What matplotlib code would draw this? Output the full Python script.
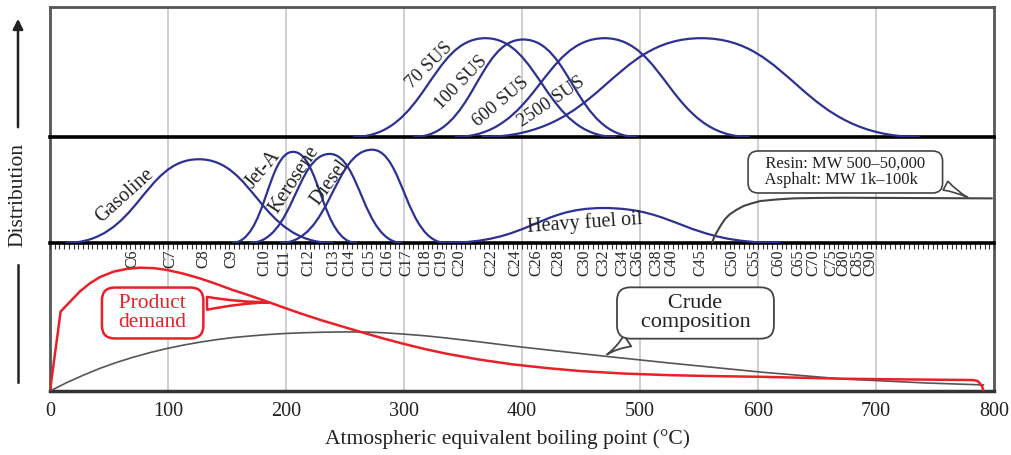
import matplotlib
matplotlib.use("Agg")
import matplotlib.pyplot as plt
from matplotlib.path import Path
from matplotlib.patches import PathPatch, FancyArrowPatch
from matplotlib.transforms import blended_transform_factory

plt.rcParams['font.family'] = ['Liberation Serif', 'DejaVu Serif']

NAVY = "#2e3192"
RED = "#e8202a"
GRID = "#cccccc"

# lube oil grades (top panel): start, peak, end temperature and peak height (% of panel)
sus_labels = ["70 SUS", "100 SUS", "600 SUS", "2500 SUS"]
sus_start = [257, 308, 343, 366]
sus_peak = [369, 401, 470, 552]
sus_end = [480, 498, 593, 737]
sus_height = [76, 75, 76, 76]

# fuels (middle panel)
fuel_labels = ["Gasoline", "Jet-A", "Kerosene", "Diesel", "Heavy fuel oil"]
fuel_start = [13, 154, 169, 195, 333]
fuel_peak = [126, 206, 237, 273, 469]
fuel_end = [240, 260, 299, 336, 619]
fuel_height = [79, 86, 84, 88, 33]

# resin / asphalt curve
resin_t = [561, 563, 566, 569, 572, 576, 582, 588, 595, 602, 615, 630, 650, 672, 798]
resin_v = [0, 6, 12, 17.6, 22.5, 27, 31.5, 35, 37.5, 39.6, 41, 42.1, 42.5, 42.7, 42.1]

# carbon numbers vs boiling point
carbon_labels = ["C6", "C7", "C8", "C9", "C10", "C11", "C12", "C13", "C14", "C15",
                 "C16", "C17", "C18", "C19", "C20", "C22", "C24", "C26", "C28", "C30",
                 "C32", "C34", "C36", "C38", "C40", "C45", "C50", "C55", "C60", "C65",
                 "C70", "C75", "C80", "C85", "C90"]
carbon_bp = [70, 102, 130, 154, 182, 199, 219, 240, 254, 271,
             286, 302, 318, 332, 347, 374, 394, 412, 431, 453,
             469, 485, 498, 514, 527, 551, 578, 597, 617, 634,
             647, 662, 672, 684, 695]

# product demand (red) and crude composition (gray), bottom panel
demand_t = [0, 9, 12.7, 18.4, 25.4, 33.9, 42.4, 53.7, 65, 76, 88, 99, 113, 127, 141, 155,
            170, 184, 198, 212, 230, 246, 265, 282, 299, 318, 336, 364, 392, 421, 449, 486,
            525, 559, 602, 672, 714, 782, 786, 788, 790, 791]
demand_v = [0, 53.6, 56.8, 61.5, 67.3, 72.8, 77, 80.6, 82.5, 83.3, 83, 81.8, 79.3, 76.1,
            72.3, 68.2, 64.3, 60.4, 56.4, 52.5, 47.8, 44, 39.5, 35.6, 32, 28.3, 25.2, 21.2,
            18, 15.5, 13.5, 11.8, 10.7, 10.1, 9.6, 8.3, 7.9, 7.4, 6.8, 5.2, 3, 0]
crude_t = [0, 14, 28, 42, 56, 70, 85, 99, 113, 127, 141, 155, 170, 184, 198, 212, 230, 246,
           265, 282, 299, 318, 336, 364, 392, 430, 469, 525, 602, 672, 743, 791]
crude_v = [0, 5.6, 10.6, 15.2, 19.2, 22.7, 26, 28.7, 31, 33, 34.7, 36.1, 37.2, 38.1, 38.8,
           39.3, 39.7, 39.9, 39.9, 39.4, 38.5, 37.3, 35.8, 33.2, 30.4, 27, 23.6, 18.9, 12.8,
           8.1, 5.4, 4.1]

x_ticks = [0, 100, 200, 300, 400, 500, 600, 700, 800]


def bell(ax, start, peak, end, height):
    a, b = 0.55, 0.42
    w1 = peak - start
    w2 = end - peak
    verts = [(start, 0), (start + a * w1, 0), (peak - b * w1, height), (peak, height),
             (peak + b * w2, height), (end - a * w2, 0), (end, 0)]
    codes = [Path.MOVETO] + [Path.CURVE4] * 6
    ax.add_patch(PathPatch(Path(verts, codes), fill=False, ec=NAVY, lw=1.6, zorder=3))


fig = plt.figure(figsize=(10.11, 4.55), dpi=100)
L, W = 50 / 1011, 944 / 1011
ax_bot = fig.add_axes([L, 1 - 391 / 455, W, 148 / 455])
ax_mid = fig.add_axes([L, 1 - 243 / 455, W, 106 / 455])
ax_top = fig.add_axes([L, 1 - 137 / 455, W, 130 / 455])

for ax in (ax_top, ax_mid, ax_bot):
    ax.set_xlim(0, 800)
    ax.set_ylim(0, 100)
    ax.set_yticks([])
    ax.patch.set_facecolor("none")
    for g in x_ticks[1:-1]:
        ax.axvline(g, color=GRID, lw=1.3, zorder=0)
    for s in ("left", "right"):
        ax.spines[s].set_color("#555555")
        ax.spines[s].set_linewidth(2)

ax_top.spines["top"].set_color("#555555")
ax_top.spines["top"].set_linewidth(2)
ax_top.spines["bottom"].set_color("black")
ax_top.spines["bottom"].set_linewidth(2.6)
ax_top.set_xticks([])
ax_mid.spines["top"].set_visible(False)
ax_mid.spines["bottom"].set_color("black")
ax_mid.spines["bottom"].set_linewidth(2.6)
ax_mid.set_xticks([])
ax_mid.set_xticks(list(range(0, 801, 4)), minor=True)
ax_mid.tick_params(axis="x", which="minor", direction="out", length=4, width=0.8, color="#333333")
ax_bot.spines["top"].set_visible(False)
ax_bot.spines["bottom"].set_color("#333333")
ax_bot.spines["bottom"].set_linewidth(2.5)
ax_bot.set_xticks(x_ticks)
ax_bot.tick_params(axis="x", length=0, labelsize=14.5, pad=8, labelcolor="#222222")
ax_bot.set_xlabel("Atmospheric equivalent boiling point (°C)", fontsize=15.5,
                  color="#222222")
ax_bot.xaxis.set_label_coords((508 - 50) / 944, -0.26)

# top panel
for s0, p, e, h in zip(sus_start, sus_peak, sus_end, sus_height):
    bell(ax_top, s0, p, e, h)
sus_pos = [(321, 55, 45), (348, 42, 46), (382, 27, 40), (425, 27, 34)]
for lab, (x, y, r) in zip(sus_labels, sus_pos):
    ax_top.text(x, y, lab, rotation=r, rotation_mode="anchor", ha="center", va="center",
                fontsize=13.5, color="#222222")

# middle panel
for s0, p, e, h in zip(fuel_start, fuel_peak, fuel_end, fuel_height):
    bell(ax_mid, s0, p, e, h)
fuel_pos = [(63, 45, 42), (181, 69, 50), (207, 60, 57), (237, 57, 54), (453, 19, 4)]
for lab, (x, y, r) in zip(fuel_labels, fuel_pos):
    ax_mid.text(x, y, lab, rotation=r, rotation_mode="anchor", ha="center", va="center",
                fontsize=14.5, color="#222222")
ax_mid.plot(resin_t, resin_v, color="#444444", lw=1.5, zorder=3)
ax_mid.annotate("   Resin: MW 500\u201350,000   \n   Asphalt: MW 1k\u2013100k",
                xy=(780, 41.5), xytext=(674, 67), ha="center", va="center",
                multialignment="left", fontsize=12, color="#222222", linespacing=1.0,
                bbox=dict(boxstyle="round,pad=0.3,rounding_size=0.6", fc="white",
                          ec="#444444", lw=1.2),
                arrowprops=dict(arrowstyle="wedge,tail_width=0.6,shrink_factor=0.3",
                                fc="white", ec="#444444", lw=1.2, relpos=(0.97, 0.3)),
                zorder=5)

# carbon number labels
tr = blended_transform_factory(ax_bot.transData, ax_bot.transAxes)
for lab, bp in zip(carbon_labels, carbon_bp):
    ax_bot.text(bp, 0.955, lab, transform=tr, rotation=90, ha="center", va="top",
                fontsize=11.5, color="#222222")

# bottom panel
ax_bot.plot(crude_t, crude_v, color="#555555", lw=1.2, zorder=3)
ax_bot.plot(demand_t, demand_v, color=RED, lw=1.8, zorder=4)
ax_bot.annotate("  Product  \ndemand", xy=(188, 60), xytext=(87, 52.7), ha="center", va="center",
                fontsize=15.5, color=RED, linespacing=1.0,
                bbox=dict(boxstyle="round,pad=0.3,rounding_size=0.6", fc="white", ec=RED, lw=1.8),
                arrowprops=dict(arrowstyle="wedge,tail_width=0.6,shrink_factor=0.3",
                                fc="white", ec=RED, lw=1.8, relpos=(1.0, 0.75)),
                zorder=5)
ax_bot.annotate("   Crude   \n   composition   ", xy=(470, 23.6), xytext=(547, 52.7),
                ha="center", va="center", fontsize=16, color="#222222", linespacing=1.0,
                bbox=dict(boxstyle="round,pad=0.3,rounding_size=0.6", fc="white",
                          ec="#444444", lw=1.3),
                arrowprops=dict(arrowstyle="wedge,tail_width=0.6,shrink_factor=0.3",
                                fc="white", ec="#444444", lw=1.3, relpos=(0.12, 0.0)),
                zorder=5)

# distribution axis label with arrow
fig.text(18 / 1011, 1 - 195 / 455, "Distribution", rotation=90, ha="center", va="center",
         fontsize=15.5, color="#222222")
fig.add_artist(FancyArrowPatch((18 / 1011, 1 - 130 / 455), (18 / 1011, 1 - 16 / 455),
                               transform=fig.transFigure, arrowstyle="-|>,head_length=6,head_width=3",
                               color="#222222", lw=1.8))
fig.add_artist(plt.Line2D([18 / 1011, 18 / 1011], [1 - 265 / 455, 1 - 382 / 455],
                          transform=fig.transFigure, color="#222222", lw=1.8))

fig.savefig("out.png", dpi=100)
